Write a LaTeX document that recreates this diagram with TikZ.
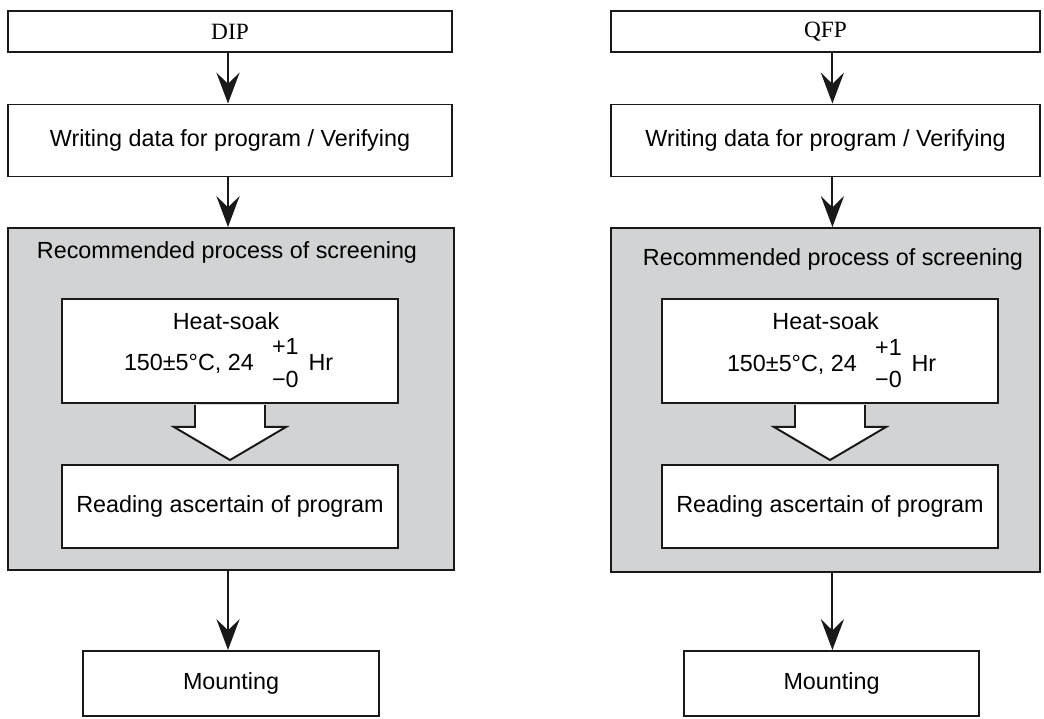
\documentclass[tikz,border=0pt]{standalone}
\usepackage{fontspec}
\setmainfont{Liberation Sans}
\newfontfamily\pkgserif{Liberation Serif}
\usepackage{xcolor}
\usetikzlibrary{arrows.meta,calc}
\definecolor{screengray}{RGB}{209,211,212}
\newcommand{\tolpm}{\hspace{13pt}\rlap{\raisebox{11.4pt}{+1}}\raisebox{-11.4pt}{−0}\hspace{7pt}}

\begin{document}
\begin{tikzpicture}[
    font=\fontsize{16.6}{19.9}\selectfont,
    box/.style={draw=black!90, line width=1.4pt, fill=white, inner sep=0pt},
    grayzone/.style={draw=black!90, line width=1.4pt, fill=screengray, inner sep=0pt},
    flow/.style={-{Stealth[length=22pt, width=16.5pt, inset=8pt]}, line width=1.3pt, black!90},
    hollow/.style={draw=black!90, line width=1.4pt, fill=white, line join=miter}
  ]
    \useasboundingbox (0,0) rectangle (26.1,17.95);
    \coordinate (axL) at (5.7, 0);
    \coordinate (axR) at (20.81, 0);

    % Left column: DIP
    \node[box, minimum width=11.1cm, minimum height=1.025cm] (dip) at (5.75, 17.1625) {\pkgserif DIP};
    \node[box, minimum width=11.1cm, minimum height=1.8cm] (writeL) at (5.75, 14.4375) {Writing data for program / Verifying};
    \node[grayzone, minimum width=11.15cm, minimum height=8.55cm] (screenL) at (5.775, 7.975) {};
    \node[anchor=base] (titleL) at (5.675, 11.475) {Recommended process of screening};
    \node[box, minimum width=8.4cm, minimum height=2.6cm] (heatL) at (5.75, 9.175) {};
    \node[anchor=base] (soakL) at (5.65, 9.7) {Heat-soak};
    \node[anchor=base] (tempL) at (5.715, 8.675) {150±5°C, 24\tolpm Hr};
    \node[box, minimum width=8.4cm, minimum height=2.075cm] (readL) at (5.75, 5.2875) {Reading ascertain of program};
    \node[box, minimum width=7.4cm, minimum height=1.625cm] (mountL) at (5.775, 0.8625) {Mounting};

    % Right column: QFP
    \node[box, minimum width=10.725cm, minimum height=1.025cm] (qfp) at (20.6375, 17.1625) {\pkgserif QFP};
    \node[box, minimum width=10.725cm, minimum height=1.8cm] (writeR) at (20.6375, 14.4375) {Writing data for program / Verifying};
    \node[grayzone, minimum width=10.725cm, minimum height=8.6cm] (screenR) at (20.6375, 7.95) {};
    \node[anchor=base] (titleR) at (20.825, 11.3) {Recommended process of screening};
    \node[box, minimum width=8.4cm, minimum height=2.6cm] (heatR) at (20.75, 9.175) {};
    \node[anchor=base] (soakR) at (20.64, 9.7) {Heat-soak};
    \node[anchor=base] (tempR) at (20.79, 8.66) {150±5°C, 24\tolpm Hr};
    \node[box, minimum width=8.4cm, minimum height=2.075cm] (readR) at (20.75, 5.2875) {Reading ascertain of program};
    \node[box, minimum width=7.375cm, minimum height=1.625cm] (mountR) at (20.7875, 0.8625) {Mounting};

    % Hollow arrows inside the screening boxes
    \draw[hollow] ($(heatL.south)+(-0.875,-0.025)$) -- ++(0,-0.55) -- ++(-0.525,0)
      -- ($(readL.north)+(0,0.1)$) -- ($(heatL.south)+(1.4,-0.575)$) -- ++(-0.525,0) -- ($(heatL.south)+(0.875,-0.025)$);
    \draw[hollow] ($(heatR.south)+(-0.875,-0.025)$) -- ++(0,-0.55) -- ++(-0.525,0)
      -- ($(readR.north)+(0,0.1)$) -- ($(heatR.south)+(1.4,-0.575)$) -- ++(-0.525,0) -- ($(heatR.south)+(0.875,-0.025)$);

    % Arrows
    \draw[flow] (dip.south -| axL) -- (writeL.north -| axL);
    \draw[flow] (writeL.south -| axL) -- (screenL.north -| axL);
    \draw[flow] (screenL.south -| axL) -- (mountL.north -| axL);
    \draw[flow] (qfp.south -| axR) -- (writeR.north -| axR);
    \draw[flow] (writeR.south -| axR) -- (screenR.north -| axR);
    \draw[flow] (screenR.south -| axR) -- (mountR.north -| axR);
  \end{tikzpicture}
\end{document}
